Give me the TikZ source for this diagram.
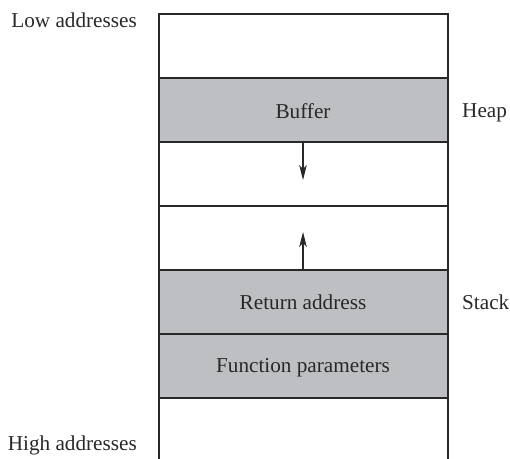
\documentclass[tikz,border=0pt]{standalone}
\usepackage{fontspec}
\setmainfont{Liberation Serif}
\usetikzlibrary{arrows.meta}
\definecolor{bandgray}{RGB}{190,191,194}
\definecolor{inkline}{RGB}{40,40,40}
\begin{document}
\begin{tikzpicture}[x=1pt,y=-1pt,
  lbl/.style={font=\fontsize{21.2}{25}\selectfont, text=inkline, inner sep=0pt},
  cell/.style={draw=inkline, line width=1.4pt, minimum width=289pt, minimum height=64pt, inner sep=0pt, outer sep=0pt, anchor=north west},
  band/.style={cell, fill=bandgray},
  growth/.style={draw=inkline, line width=1.3pt, -{Stealth[length=15pt,width=7.5pt,inset=4pt]}}]
  \useasboundingbox (0,0) rectangle (510,458);
  % memory cells, top to bottom
  \node[cell] (top) at (159,14) {};
  \node[band] (buf) at (159,78) {};
  \node[cell] (gapa) at (159,142) {};
  \node[cell] (gapb) at (159,206) {};
  \node[band] (ret) at (159,270) {};
  \node[band] (par) at (159,334) {};
  % open-ended bottom cell
  \draw[inkline, line width=1.4pt] (par.south west) -- (159,460);
  \draw[inkline, line width=1.4pt] (par.south east) -- (448,460);
  % cell texts
  \node[lbl, anchor=base] (buftxt) at (303,118) {Buffer};
  \node[lbl, anchor=base] (rettxt) at (303,309) {Return address};
  \node[lbl, anchor=base] (partxt) at (303,372) {Function parameters};
  % side labels
  \node[lbl, anchor=base east] (low) at (137,27) {Low addresses};
  \node[lbl, anchor=base east] (high) at (137,450) {High addresses};
  \node[lbl, anchor=base west] (heap) at (462,117) {Heap};
  \node[lbl, anchor=base west] (stack) at (462,309) {Stack};
  % growth directions
  \coordinate (heapend) at (303,180);
  \coordinate (stackend) at (303,232);
  \draw[growth] (buf.south -| heapend) -- (heapend);
  \draw[growth] (ret.north -| stackend) -- (stackend);
\end{tikzpicture}
\end{document}
